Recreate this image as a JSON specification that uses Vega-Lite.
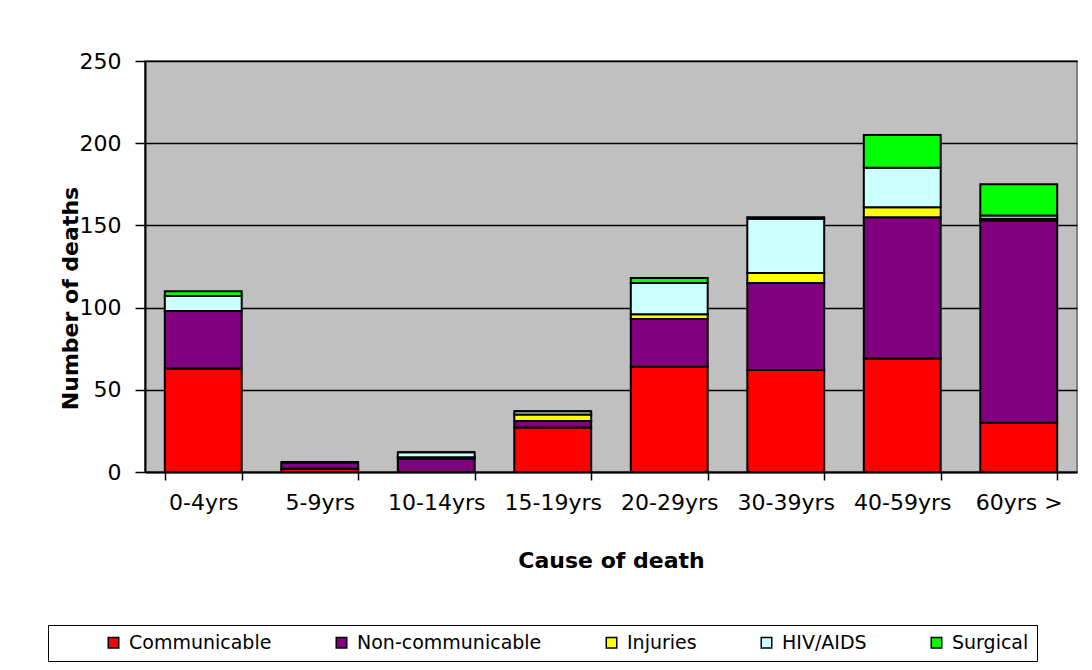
{
  "$schema": "https://vega.github.io/schema/vega-lite/v6.json",
  "width": 932,
  "height": 411,
  "autosize": {"type": "none"},
  "padding": {"left": 145, "top": 61, "right": 15, "bottom": 198},
  "background": "white",
  "config": {
    "view": {"fill": "#C0C0C0", "stroke": "#808080", "strokeWidth": 2},
    "font": "DejaVu Sans"
  },
  "datasets": {
    "causes": [
      {"cause": "Communicable", "rank": 1},
      {"cause": "Non-communicable", "rank": 2},
      {"cause": "Injuries", "rank": 3},
      {"cause": "HIV/AIDS", "rank": 4},
      {"cause": "Surgical", "rank": 5}
    ],
    "deaths": [
      {"age": "0-4yrs", "cause": "Communicable", "deaths": 63},
      {"age": "0-4yrs", "cause": "Non-communicable", "deaths": 35},
      {"age": "0-4yrs", "cause": "Injuries", "deaths": 0},
      {"age": "0-4yrs", "cause": "HIV/AIDS", "deaths": 9},
      {"age": "0-4yrs", "cause": "Surgical", "deaths": 3},
      {"age": "5-9yrs", "cause": "Communicable", "deaths": 2},
      {"age": "5-9yrs", "cause": "Non-communicable", "deaths": 4},
      {"age": "5-9yrs", "cause": "Injuries", "deaths": 0},
      {"age": "5-9yrs", "cause": "HIV/AIDS", "deaths": 0},
      {"age": "5-9yrs", "cause": "Surgical", "deaths": 0},
      {"age": "10-14yrs", "cause": "Communicable", "deaths": 0},
      {"age": "10-14yrs", "cause": "Non-communicable", "deaths": 8},
      {"age": "10-14yrs", "cause": "Injuries", "deaths": 1},
      {"age": "10-14yrs", "cause": "HIV/AIDS", "deaths": 3},
      {"age": "10-14yrs", "cause": "Surgical", "deaths": 0},
      {"age": "15-19yrs", "cause": "Communicable", "deaths": 27},
      {"age": "15-19yrs", "cause": "Non-communicable", "deaths": 4},
      {"age": "15-19yrs", "cause": "Injuries", "deaths": 4},
      {"age": "15-19yrs", "cause": "HIV/AIDS", "deaths": 2},
      {"age": "15-19yrs", "cause": "Surgical", "deaths": 0},
      {"age": "20-29yrs", "cause": "Communicable", "deaths": 64},
      {"age": "20-29yrs", "cause": "Non-communicable", "deaths": 29},
      {"age": "20-29yrs", "cause": "Injuries", "deaths": 3},
      {"age": "20-29yrs", "cause": "HIV/AIDS", "deaths": 19},
      {"age": "20-29yrs", "cause": "Surgical", "deaths": 3},
      {"age": "30-39yrs", "cause": "Communicable", "deaths": 62},
      {"age": "30-39yrs", "cause": "Non-communicable", "deaths": 53},
      {"age": "30-39yrs", "cause": "Injuries", "deaths": 6},
      {"age": "30-39yrs", "cause": "HIV/AIDS", "deaths": 33},
      {"age": "30-39yrs", "cause": "Surgical", "deaths": 1},
      {"age": "40-59yrs", "cause": "Communicable", "deaths": 69},
      {"age": "40-59yrs", "cause": "Non-communicable", "deaths": 86},
      {"age": "40-59yrs", "cause": "Injuries", "deaths": 6},
      {"age": "40-59yrs", "cause": "HIV/AIDS", "deaths": 24},
      {"age": "40-59yrs", "cause": "Surgical", "deaths": 20},
      {"age": "60yrs >", "cause": "Communicable", "deaths": 30},
      {"age": "60yrs >", "cause": "Non-communicable", "deaths": 123},
      {"age": "60yrs >", "cause": "Injuries", "deaths": 1},
      {"age": "60yrs >", "cause": "HIV/AIDS", "deaths": 2},
      {"age": "60yrs >", "cause": "Surgical", "deaths": 19}
    ]
  },
  "data": {"name": "deaths"},
  "transform": [
    {"lookup": "cause", "from": {"data": {"name": "causes"}, "key": "cause", "fields": ["rank"]}}
  ],
  "mark": {"type": "bar", "stroke": "black", "strokeWidth": 2},
  "encoding": {
    "x": {
      "field": "age",
      "type": "nominal",
      "sort": ["0-4yrs", "5-9yrs", "10-14yrs", "15-19yrs", "20-29yrs", "30-39yrs", "40-59yrs", "60yrs >"],
      "scale": {"paddingInner": 0.34, "paddingOuter": 0.17},
      "axis": {
        "title": "Cause of death",
        "titleFont": "DejaVu Sans",
        "titleFontSize": 22,
        "titleFontWeight": "bold",
        "titleColor": "black",
        "titleY": 88,
        "titleBaseline": "middle",
        "labelAngle": 0,
        "labelFont": "DejaVu Sans",
        "labelFontSize": 22,
        "labelColor": "black",
        "labelPadding": 12,
        "tickBand": "extent",
        "tickSize": 8,
        "tickColor": "black",
        "tickWidth": 1.5,
        "domainColor": "black",
        "domainWidth": 2
      }
    },
    "y": {
      "field": "deaths",
      "type": "quantitative",
      "stack": "zero",
      "scale": {"domain": [0, 250], "nice": false},
      "axis": {
        "title": "Number of deaths",
        "titleFont": "DejaVu Sans",
        "titleFontSize": 22,
        "titleFontWeight": "bold",
        "titleColor": "black",
        "titleAngle": -90,
        "titleAlign": "center",
        "titleBaseline": "middle",
        "titleX": -75,
        "titleY": 237,
        "values": [0, 50, 100, 150, 200, 250],
        "labelFont": "DejaVu Sans",
        "labelFontSize": 22,
        "labelColor": "black",
        "labelPadding": 14,
        "tickSize": 10,
        "tickColor": "black",
        "tickWidth": 1.5,
        "domainColor": "black",
        "domainWidth": 2,
        "grid": true,
        "gridColor": "black",
        "gridWidth": 1.5
      }
    },
    "color": {
      "field": "cause",
      "type": "nominal",
      "scale": {
        "domain": ["Communicable", "Non-communicable", "Injuries", "HIV/AIDS", "Surgical"],
        "range": ["#FF0000", "#800080", "#FFFF00", "#CCFFFF", "#00FF00"]
      },
      "legend": {
        "orient": "none",
        "legendX": -97,
        "legendY": 564,
        "direction": "horizontal",
        "title": " ",
        "titleOrient": "left",
        "titlePadding": 48,
        "titleFontSize": 19,
        "padding": 8,
        "strokeColor": "black",
        "fillColor": "white",
        "columnPadding": 60,
        "symbolType": "square",
        "symbolSize": 110,
        "symbolStrokeColor": "black",
        "symbolStrokeWidth": 1.5,
        "symbolOpacity": 1,
        "labelFont": "DejaVu Sans",
        "labelFontSize": 19,
        "labelColor": "black",
        "labelOffset": 6,
        "labelLimit": 300
      }
    },
    "order": {"field": "rank", "type": "quantitative", "sort": "ascending"}
  }
}
